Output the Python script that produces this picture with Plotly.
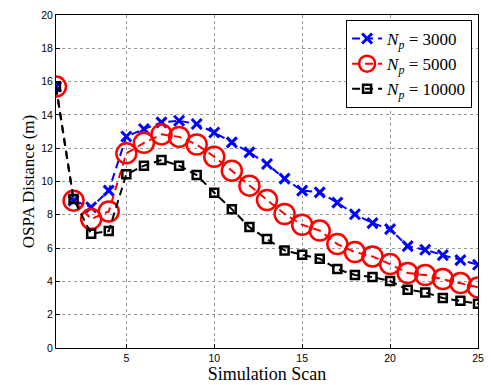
import plotly.graph_objects as go

scans = list(range(1, 26))
np3000 = [15.7, 8.85, 8.45, 9.45, 12.7, 13.15, 13.55, 13.65, 13.45, 12.94, 12.35, 11.75, 11.05,
          10.17, 9.45, 9.35, 8.73, 8.03, 7.5, 7.14, 6.12, 5.9, 5.58, 5.28, 5.0]
np5000 = [15.7, 8.85, 7.75, 8.2, 11.69, 12.32, 12.83, 12.68, 12.22, 11.49, 10.65, 9.75, 8.89,
          8.05, 7.4, 7.05, 6.24, 5.76, 5.5, 5.04, 4.5, 4.38, 4.14, 3.9, 3.64]
np10000 = [15.7, 8.95, 6.86, 7.02, 10.43, 10.95, 11.29, 10.95, 10.39, 9.33, 8.34, 7.26, 6.54,
           5.86, 5.6, 5.36, 4.74, 4.38, 4.26, 4.02, 3.5, 3.34, 3.0, 2.84, 2.66]
labels = ["<i>N</i><sub><i>p</i></sub> = 3000",
          "<i>N</i><sub><i>p</i></sub> = 5000",
          "<i>N</i><sub><i>p</i></sub> = 10000"]
x_ticks = [5, 10, 15, 20, 25]
y_ticks = list(range(0, 21, 2))

fig = go.Figure()
fig.add_trace(go.Scatter(x=scans, y=np3000, name=labels[0], mode="lines+markers",
                         line=dict(color="#0000ff", width=2, dash="8px,5px"),
                         marker=dict(symbol="x-thin-open", size=10, line=dict(color="#0000ff", width=3))))
fig.add_trace(go.Scatter(x=scans, y=np5000, name=labels[1], mode="lines+markers",
                         line=dict(color="#ff0000", width=2, dash="8px,5px"),
                         marker=dict(symbol="circle-open", size=20, line=dict(color="#ff0000", width=2.5))))
fig.add_trace(go.Scatter(x=scans, y=np10000, name=labels[2], mode="lines+markers",
                         line=dict(color="#000000", width=2, dash="8px,5px"),
                         marker=dict(symbol="square-open", size=8, line=dict(color="#000000", width=2.5))))

axis_common = dict(showline=True, linecolor="black", linewidth=1, mirror=True,
                   ticks="inside", ticklen=4, tickcolor="black",
                   showgrid=True, gridcolor="#999999", griddash="dot", gridwidth=1,
                   zeroline=False, tickfont=dict(family="Liberation Sans, Arial", size=10.5, color="black"))

fig.update_layout(
    width=491, height=385,
    margin=dict(l=56, r=7, t=15, b=37),
    paper_bgcolor="white", plot_bgcolor="white",
    showlegend=True,
    legend=dict(x=0.986, y=0.985, xanchor="right", yanchor="top",
                bgcolor="white", bordercolor="black", borderwidth=1,
                font=dict(family="Liberation Serif, DejaVu Serif", size=17, color="black"),
                tracegroupgap=0, itemwidth=30),
    xaxis=dict(range=[1, 25], tickvals=x_ticks, title=dict(text="Simulation Scan", standoff=2,
               font=dict(family="Liberation Serif, DejaVu Serif", size=18, color="black")), **axis_common),
    yaxis=dict(range=[0, 20], tickvals=y_ticks, title=dict(text="OSPA Distance (m)", standoff=2,
               font=dict(family="Liberation Serif, DejaVu Serif", size=17, color="black")), **axis_common),
)

fig.write_html("out.html", config={"displayModeBar": False},
               post_script="document.body.style.margin='0';document.body.style.overflow='hidden';")
